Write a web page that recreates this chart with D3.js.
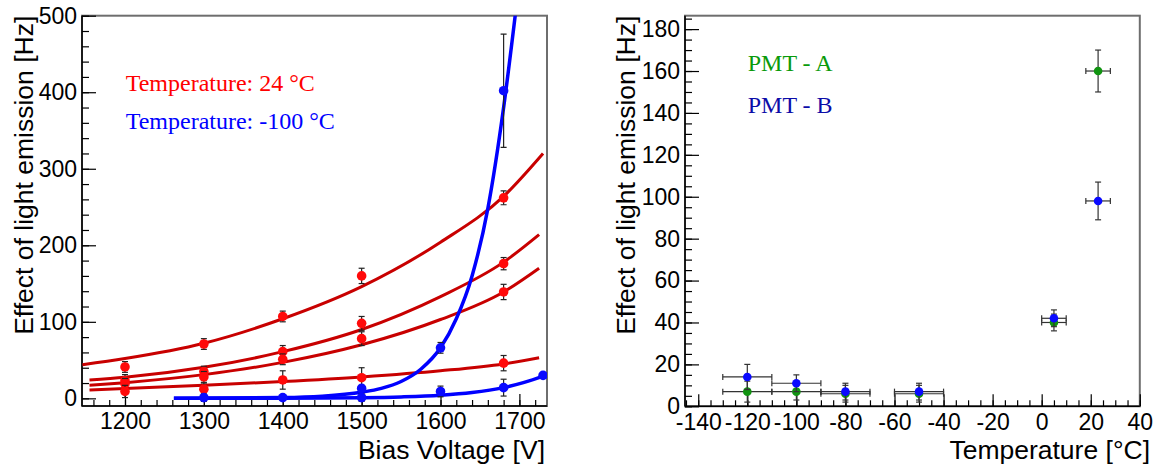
<!DOCTYPE html>
<html><head><meta charset="utf-8">
<script src="https://cdn.jsdelivr.net/npm/d3@7"></script>
<style>
html,body{margin:0;padding:0;background:#fff;}
svg{display:block;}
</style></head>
<body>
<svg id="chart" width="1158" height="465"></svg>
<script>
// ---------------- Left panel data: light emission vs bias voltage ----------------
const voltTicks = [1200, 1300, 1400, 1500, 1600, 1700];
const rateTicksLeft = [0, 100, 200, 300, 400, 500];

// 24 °C measurements (four PMT sets)
const volt24 = [1200, 1300, 1400, 1500, 1680];
const rate24A = [41, 71, 107, 160, 262];
const err24A = [7, 7, 7, 10, 9];
const rate24B = [23, 35, 61, 98, 176];
const err24B = [8, 7, 8, 9, 8];
const rate24C = [19, 28, 51, 78, 139];
const err24C = [7, 7, 7, 9, 10];
const rate24D = [9, 12, 24, 27, 46];
const err24D = [8, 8, 12, 13, 10];

// 24 °C fit curves
const fitVoltA = [1146, 1200, 1300, 1400, 1500, 1600, 1680, 1730];
const fitRateA = [44, 52, 72, 104, 146, 204, 264, 320];
const fitVoltBCD = [1155, 1200, 1300, 1400, 1500, 1600, 1680, 1725];
const fitRateB = [24, 27.5, 40.5, 61, 90, 133, 178, 214];
const fitRateC = [17, 20.5, 31, 47, 70, 103, 139, 170];
const fitRateD = [11, 13, 17, 22, 28, 36, 45, 53];

// -100 °C measurements
const voltCold = [1300, 1400, 1500, 1500, 1600, 1600, 1680, 1680, 1730];
const rateCold = [1, 1, 13, 1, 66, 9, 402, 14, 30];
const errCold = [5, 3, 4, 5, 7, 7, 74, 11, 3];

// -100 °C fit curves
const fitVoltSteep = [1262, 1400, 1450, 1500, 1525, 1550, 1575, 1600, 1620, 1640, 1660, 1680, 1697];
const fitRateSteep = [0.05, 1, 2.8, 8, 13, 22, 38, 66, 104, 160, 248, 380, 520];
const fitVoltFlat = [1262, 1400, 1500, 1550, 1600, 1640, 1680, 1705, 1733];
const fitRateFlat = [0.05, 0.2, 0.9, 1.9, 4, 7.5, 14, 20.5, 30];

// ---------------- Right panel data: light emission vs temperature ----------------
const tempTicks = [-140, -120, -100, -80, -60, -40, -20, 0, 20, 40];
const rateTicksRight = [0, 20, 40, 60, 80, 100, 120, 140, 160, 180];

const tempPmt = [-120, -100, -80, -50, 5, 23];
const tempErr = [10, 10, 10, 10, 5, 5];
const ratePmtA = [7, 7, 6, 6, 40, 160];
const errPmtA = [5, 4, 4, 4, 4, 10];
const ratePmtB = [14, 11, 7, 7, 42, 98];
const errPmtB = [6, 4, 4, 4, 4, 9];

// ---------------- Drawing ----------------
const svg = d3.select('#chart');
const SANS = '"Liberation Sans", Arial, Helvetica, sans-serif';
const SERIF = '"Liberation Serif", "Times New Roman", serif';

function range(a, b, s) { const r = []; for (let v = a; v <= b + 1e-9; v += s) r.push(+v.toFixed(6)); return r; }

function drawFrame(g, x, y, xMajor, xMinor, yMajor, yMinor, xTitle, yTitle, xTitleEnd, yTitleX) {
  const [x0, x1] = x.range();
  const [y0, y1] = y.range();
  g.append('rect').attr('x', x0).attr('y', y1).attr('width', x1 - x0).attr('height', y0 - y1)
    .attr('fill', 'none').attr('stroke', '#6e6e6e').attr('stroke-width', 2);

  const styleAxis = sel => {
    sel.select('.domain').remove();
    sel.selectAll('line').attr('stroke', '#000').attr('stroke-width', 1.2);
    sel.selectAll('text').attr('font-family', SANS).attr('font-size', 23).attr('fill', '#000');
  };
  // x axis
  g.append('g').attr('transform', `translate(0,${y0})`)
    .call(d3.axisBottom(x).tickValues(xMinor.filter(v => v >= x.domain()[0] && v <= x.domain()[1])).tickSize(-6).tickFormat(''))
    .call(styleAxis);
  g.append('g').attr('transform', `translate(0,${y0})`)
    .call(d3.axisBottom(x).tickValues(xMajor).tickSize(-12).tickPadding(7).tickFormat(d3.format('d')))
    .call(styleAxis);
  // y axis
  g.append('g').attr('transform', `translate(${x0},0)`)
    .call(d3.axisLeft(y).tickValues(yMinor.filter(v => v >= y.domain()[0] && v <= y.domain()[1])).tickSize(-7).tickFormat(''))
    .call(styleAxis);
  g.append('g').attr('transform', `translate(${x0},0)`)
    .call(d3.axisLeft(y).tickValues(yMajor).tickSize(-14).tickPadding(5).tickFormat(d3.format('d')))
    .call(styleAxis);
  g.selectAll('.tick text').filter(function(){ return this.textContent.startsWith('−'); })
    .text(function(){ return this.textContent.replace('−', '-'); });

  g.append('line').attr('x1', x0).attr('x2', x1).attr('y1', y0).attr('y2', y0).attr('stroke', '#000').attr('stroke-width', 1.5);
  g.append('line').attr('x1', x0).attr('x2', x0).attr('y1', y0).attr('y2', y1).attr('stroke', '#000').attr('stroke-width', 1.5);

  g.append('text').attr('x', xTitleEnd).attr('y', 459).attr('text-anchor', 'end')
    .attr('font-family', SANS).attr('font-size', 26.5).attr('fill', '#000').text(xTitle);
  g.append('text').attr('transform', `translate(${yTitleX},${y1}) rotate(-90)`).attr('text-anchor', 'end')
    .attr('font-family', SANS).attr('font-size', 26.5).attr('fill', '#000').text(yTitle);
}

// ===== Left panel =====
const xL = d3.scaleLinear().domain([1145.5, 1735]).range([82, 547]);
const yL = d3.scaleLinear().domain([-10, 500]).range([406, 15.7]);
const gL = svg.append('g');
gL.append('defs').append('clipPath').attr('id', 'clipL')
  .append('rect').attr('x', 82).attr('y', 15.7).attr('width', 465).attr('height', 390.3);

drawFrame(gL, xL, yL, voltTicks, range(1160, 1740, 20), rateTicksLeft, range(0, 500, 20),
  'Bias Voltage [V]', 'Effect of light emission [Hz]', 545, 33);

const plotL = gL.append('g').attr('clip-path', 'url(#clipL)');
const lineL = d3.line().x(d => xL(d[0])).y(d => yL(d[1])).curve(d3.curveMonotoneX);

function errorBarsV(g, xs, ys, es, x, y, color, cap) {
  xs.forEach((xv, i) => {
    const px = x(xv), lo = y(ys[i] - es[i]), hi = y(ys[i] + es[i]);
    g.append('line').attr('x1', px).attr('x2', px).attr('y1', lo).attr('y2', hi).attr('stroke', color).attr('stroke-width', 1.2);
    [lo, hi].forEach(py => g.append('line').attr('x1', px - cap).attr('x2', px + cap).attr('y1', py).attr('y2', py).attr('stroke', color).attr('stroke-width', 1.2));
  });
}
function markers(g, xs, ys, x, y, color, r) {
  xs.forEach((xv, i) => g.append('circle').attr('cx', x(xv)).attr('cy', y(ys[i])).attr('r', r).attr('fill', color));
}

// red fit curves
[[fitVoltA, fitRateA], [fitVoltBCD, fitRateB], [fitVoltBCD, fitRateC], [fitVoltBCD, fitRateD]].forEach(([vx, vy]) => {
  plotL.append('path').datum(vx.map((v, i) => [v, vy[i]])).attr('d', lineL)
    .attr('fill', 'none').attr('stroke', '#c80000').attr('stroke-width', 3);
});
// red points
[[rate24A, err24A], [rate24B, err24B], [rate24C, err24C], [rate24D, err24D]].forEach(([r, e]) => {
  errorBarsV(plotL, volt24, r, e, xL, yL, '#222', 3);
  markers(plotL, volt24, r, xL, yL, '#ff0a0a', 4.8);
});
// blue fit curves
[[fitVoltSteep, fitRateSteep], [fitVoltFlat, fitRateFlat]].forEach(([vx, vy]) => {
  plotL.append('path').datum(vx.map((v, i) => [v, vy[i]])).attr('d', lineL)
    .attr('fill', 'none').attr('stroke', '#0000ff').attr('stroke-width', 3.5);
});
errorBarsV(plotL, voltCold, rateCold, errCold, xL, yL, '#222', 3);
markers(plotL, voltCold, rateCold, xL, yL, '#0a0aff', 4.8);

gL.append('text').attr('x', 125.7).attr('y', 90.7).attr('font-family', SERIF).attr('font-size', 24)
  .attr('fill', '#ff0000').text('Temperature: 24 °C');
gL.append('text').attr('x', 125.7).attr('y', 129.3).attr('font-family', SERIF).attr('font-size', 24)
  .attr('fill', '#0000ff').text('Temperature: -100 °C');

// ===== Right panel =====
const xR = d3.scaleLinear().domain([-145.4, 40]).range([685, 1139.8]);
const yR = d3.scaleLinear().domain([0, 186.4]).range([406.3, 15.7]);
const gR = svg.append('g');
drawFrame(gR, xR, yR, tempTicks, range(-145, 40, 5), rateTicksRight, range(0, 185, 5),
  'Temperature [°C]', 'Effect of light emission [Hz]', 1150, 635);

function errorBarsXY(g, xs, xe, ys, ye, color, cap) {
  xs.forEach((xv, i) => {
    const px = xR(xv), py = yR(ys[i]);
    const xl = xR(xv - xe[i]), xh = xR(xv + xe[i]);
    const yl = yR(ys[i] - ye[i]), yh = yR(ys[i] + ye[i]);
    g.append('line').attr('x1', xl).attr('x2', xh).attr('y1', py).attr('y2', py).attr('stroke', color).attr('stroke-width', 1.2);
    g.append('line').attr('x1', px).attr('x2', px).attr('y1', yl).attr('y2', yh).attr('stroke', color).attr('stroke-width', 1.2);
    [xl, xh].forEach(qx => g.append('line').attr('x1', qx).attr('x2', qx).attr('y1', py - cap).attr('y2', py + cap).attr('stroke', color).attr('stroke-width', 1.2));
    [yl, yh].forEach(qy => g.append('line').attr('x1', px - cap).attr('x2', px + cap).attr('y1', qy).attr('y2', qy).attr('stroke', color).attr('stroke-width', 1.2));
  });
}
errorBarsXY(gR, tempPmt, tempErr, ratePmtA, errPmtA, '#333', 3);
markers(gR, tempPmt, ratePmtA, xR, yR, '#119411', 4.3);
errorBarsXY(gR, tempPmt, tempErr, ratePmtB, errPmtB, '#333', 3);
markers(gR, tempPmt, ratePmtB, xR, yR, '#0a0aff', 4.3);

gR.append('text').attr('x', 747.7).attr('y', 70.7).attr('font-family', SERIF).attr('font-size', 24)
  .attr('fill', '#0a9a0a').text('PMT - A');
gR.append('text').attr('x', 747.7).attr('y', 113.3).attr('font-family', SERIF).attr('font-size', 24)
  .attr('fill', '#0c0ca8').text('PMT - B');
</script>
</body></html>
